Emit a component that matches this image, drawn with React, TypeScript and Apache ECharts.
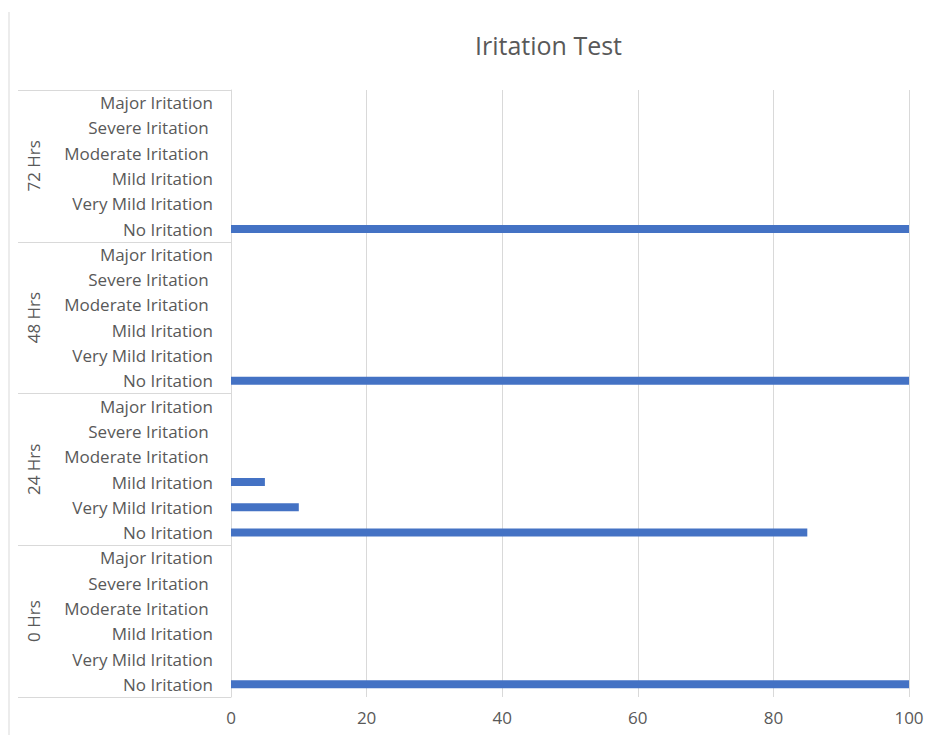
import React, { useEffect, useRef } from "react";
import * as echarts from "echarts";

const timePoints = ["0 Hrs", "24 Hrs", "48 Hrs", "72 Hrs"];
const levels = [
  "No Iritation",
  "Very Mild Iritation",
  "Mild Iritation",
  "Moderate Iritation ",
  "Severe Iritation ",
  "Major Iritation",
];
const values0Hrs = [100, 0, 0, 0, 0, 0];
const values24Hrs = [85, 10, 5, 0, 0, 0];
const values48Hrs = [100, 0, 0, 0, 0, 0];
const values72Hrs = [100, 0, 0, 0, 0, 0];
const xTicks = [0, 20, 40, 60, 80, 100];

export default function App() {
  const ref = useRef<HTMLDivElement>(null);
  useEffect(() => {
    if (!ref.current) return;
    const chart = echarts.init(ref.current, undefined, { renderer: "svg" });
    const groups = [values0Hrs, values24Hrs, values48Hrs, values72Hrs];
    const categories: string[] = [];
    const data: number[] = [];
    groups.forEach((g) => {
      levels.forEach((lv, i) => {
        categories.push(lv);
        data.push(g[i]);
      });
    });
    const font = "'Open Sans', 'Noto Sans', sans-serif";
    chart.setOption({
      animation: false,
      backgroundColor: "#ffffff",
      title: {
        text: "Iritation Test",
        left: 470,
        top: 27,
        textStyle: { color: "#595959", fontSize: 25, fontWeight: "normal", fontFamily: font },
      },
      graphic: [
        {
          type: "line",
          shape: { x1: 9, y1: 12, x2: 9, y2: 735 },
          style: { stroke: "#d9d9d9", lineWidth: 1 },
        },
      ],
      grid: { left: 231, right: 18, top: 90, bottom: 38, containLabel: false },
      xAxis: {
        type: "value",
        min: xTicks[0],
        max: xTicks[xTicks.length - 1],
        interval: 20,
        axisLine: { show: false },
        axisTick: { show: false },
        splitLine: { show: true, lineStyle: { color: "#d9d9d9", width: 1 } },
        axisLabel: { color: "#595959", fontSize: 17, fontFamily: font, margin: 12 },
      },
      yAxis: [
        {
          type: "category",
          data: categories,
          position: "left",
          axisLine: { show: true, lineStyle: { color: "#d9d9d9" } },
          axisTick: { show: false },
          splitLine: { show: false },
          axisLabel: {
            interval: 0,
            color: "#595959",
            fontSize: 17,
            fontFamily: font,
            margin: 18,
          },
        },
        {
          type: "category",
          data: timePoints,
          position: "left",
          offset: 213,
          axisLine: { show: false },
          axisTick: {
            show: true,
            inside: true,
            length: 213,
            lineStyle: { color: "#d9d9d9" },
          },
          splitLine: { show: false },
          axisLabel: {
            inside: true,
            rotate: 90,
            interval: 0,
            color: "#595959",
            fontSize: 17,
            fontFamily: font,
            margin: 7,
          },
        },
      ],
      series: [
        {
          type: "bar",
          yAxisIndex: 0,
          data,
          barWidth: 8,
          itemStyle: { color: "#4472C4" },
        },
      ],
    });
    return () => chart.dispose();
  }, []);
  return (
    <div
      ref={ref}
      style={{ position: "fixed", left: 0, top: 0, width: 927, height: 735, background: "#fff" }}
    />
  );
}
